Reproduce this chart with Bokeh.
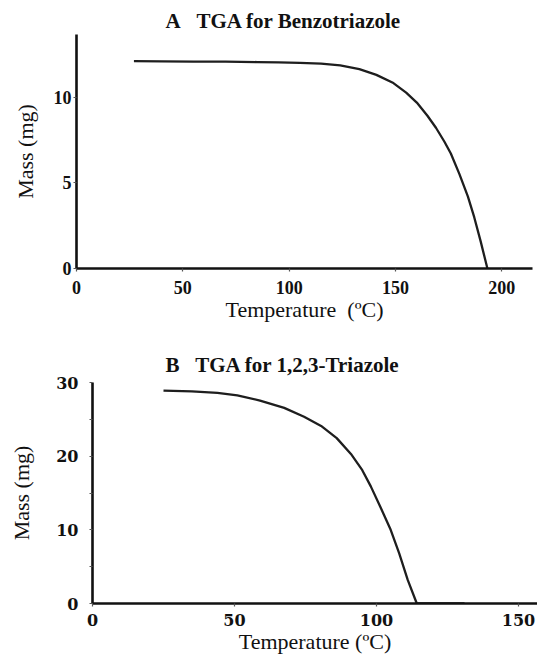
from bokeh.plotting import figure
from bokeh.models import Range1d, FixedTicker
from bokeh.embed import file_html
from bokeh.resources import INLINE

# ---- data ----
A_title = "A\u00a0\u00a0\u00a0TGA for Benzotriazole"
A_temp = [27, 40, 55, 70, 85, 95, 105, 115, 124, 133, 141, 149, 155, 160, 165, 169, 173, 176, 180, 184, 187, 190, 193.2]
A_mass = [12.12, 12.11, 12.1, 12.09, 12.07, 12.05, 12.02, 11.98, 11.87, 11.66, 11.32, 10.84, 10.28, 9.7, 8.93, 8.23, 7.41, 6.72, 5.53, 4.22, 3.0, 1.6, 0.0]
A_xticks = [0, 50, 100, 150, 200]
A_yticks = [0, 5, 10]

B_title = "B\u00a0\u00a0\u00a0TGA for 1,2,3-Triazole"
B_temp = [25, 35, 44, 51, 59, 67.5, 74.5, 80.5, 86, 91, 95, 98, 101.5, 105, 108, 111, 114.2, 131]
B_mass = [28.9, 28.8, 28.6, 28.25, 27.55, 26.55, 25.35, 24.1, 22.45, 20.3, 18.1, 15.9, 13.0, 10.0, 6.8, 3.2, 0.0, 0.0]
B_xticks = [0, 50, 100, 150]
B_yticks = [0, 10, 20, 30]
B_yminor = [5, 15, 25]

x_label_A = "Temperature\u00a0\u00a0(ºC)"
x_label_B = "Temperature (ºC)"
y_label = "Mass (mg)"

SERIF = "Liberation Serif"


def style(p, tick_font, tick_size, label_size):
    p.grid.visible = False
    p.outline_line_color = None
    p.background_fill_color = "white"
    p.border_fill_color = "white"
    for ax in (p.xaxis[0], p.yaxis[0]):
        ax.axis_line_width = 2.6
        ax.axis_line_color = "#111111"
        ax.major_tick_line_color = "#555555"
        ax.major_tick_line_width = 1.2
        ax.major_tick_out = 3
        ax.major_tick_in = 0
        ax.minor_tick_line_color = None
        ax.major_label_text_font = tick_font
        ax.major_label_text_font_style = "bold"
        ax.major_label_text_font_size = tick_size
        ax.major_label_text_color = "#111111"
        ax.axis_label_text_font = SERIF
        ax.axis_label_text_font_style = "normal"
        ax.axis_label_text_font_size = label_size
        ax.axis_label_text_color = "#111111"
    p.title.text_font = SERIF
    p.title.text_font_size = "21px"
    p.title.text_font_style = "bold"
    p.title.text_color = "#111111"
    p.title.align = "left"


# ---- panel A ----
pA = figure(width=537, height=332, x_range=Range1d(0, 214.4), y_range=Range1d(0, 13.68),
            output_backend="svg", toolbar_location=None, title=A_title,
            min_border_left=76, min_border_right=5, min_border_top=34, min_border_bottom=64)
style(pA, SERIF, "18px", "22px")
pA.title.offset = 89
pA.title.standoff = 3
pA.xaxis.ticker = FixedTicker(ticks=A_xticks)
pA.yaxis.ticker = FixedTicker(ticks=A_yticks)
pA.xaxis.axis_label = x_label_A
pA.yaxis.axis_label = y_label
pA.xaxis.major_label_standoff = 9
pA.yaxis.major_label_standoff = 2
pA.xaxis.axis_label_standoff = 0
pA.yaxis.axis_label_standoff = 13
pA.line(A_temp, A_mass, line_width=2.3, line_color="#1e1e1e", line_join="round")

# ---- panel B ----
pB = figure(width=537, height=327, x_range=Range1d(0, 156.7), y_range=Range1d(0, 30),
            output_backend="svg", toolbar_location=None, title=B_title,
            min_border_left=92, min_border_right=0, min_border_top=50, min_border_bottom=56)
style(pB, "DejaVu Serif", "16px", "22px")
pB.title.offset = 73
pB.title.standoff = 11
pB.xaxis.ticker = FixedTicker(ticks=B_xticks)
pB.yaxis.ticker = FixedTicker(ticks=B_yticks, minor_ticks=B_yminor)
pB.yaxis.minor_tick_line_color = "#555555"
pB.yaxis.minor_tick_line_width = 1.2
pB.yaxis.minor_tick_out = 3
pB.yaxis.minor_tick_in = 0
pB.xaxis.axis_label = x_label_B
pB.yaxis.axis_label = y_label
pB.xaxis.major_label_standoff = 7
pB.yaxis.major_label_standoff = 11
pB.xaxis.axis_label_standoff = 0
pB.yaxis.axis_label_standoff = 19
pB.line(B_temp, B_mass, line_width=2.3, line_color="#1e1e1e", line_join="round")

open("out.html", "w").write(file_html([pA, pB], INLINE))
